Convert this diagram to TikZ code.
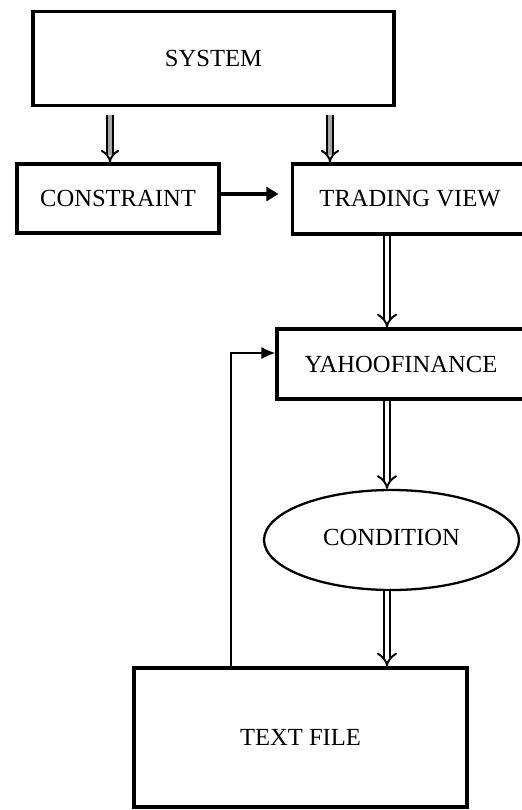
\documentclass[tikz,border=0pt]{standalone}
\usepackage{fontspec}
\setmainfont{Liberation Serif}
\usetikzlibrary{shapes.geometric}
\usetikzlibrary{arrows.meta}
\usetikzlibrary{calc}
\tikzset{every picture/.style={line width=1pt},block/.style={draw,line width=1.9pt,inner sep=0pt,font=\fontsize{14}{17}\selectfont},greyarrow/.style={line width=1.1pt,double=gray!70,double distance=2.4pt,-{Implies}},whitearrow/.style={line width=1.1pt,double=white,double distance=2.8pt,-{Implies}}}

\begin{document}
\begin{tikzpicture}[x=0.02cm,y=-0.02cm]
\useasboundingbox (0,0) rectangle (521,810);
\node[block,minimum width=7.22cm,minimum height=1.88cm] (system) at (213.5,58.5) {SYSTEM};
\node[block,minimum width=4.04cm,minimum height=1.38cm] (constraint) at (118,198.5) {CONSTRAINT};
\node[block,minimum width=4.7cm,minimum height=1.4cm] (trading) at (410,199) {TRADING VIEW};
\node[block,minimum width=4.96cm,minimum height=1.4cm] (yahoo) at (401,364) {YAHOOFINANCE};
\node[block,ellipse,line width=1.3pt,minimum width=5.1cm,minimum height=2cm] (condition) at (391.5,540) {};
\node[font=\fontsize{14}{17}\selectfont] at (391.5,537) {CONDITION};
\node[block,minimum width=6.66cm,minimum height=2.78cm] (textfile) at (300.5,737.5) {TEXT FILE};
\draw[greyarrow] (110,115 |- system.south) ++(0,8) -- (110,0 |- constraint.north);
\draw[greyarrow] (330,0 |- system.south) ++(0,8) -- (330,0 |- trading.north);
\draw[line width=2.8pt,-{Triangle[length=7pt,width=8pt]},shorten >=7pt] (constraint.east |- 0,194) -- (trading.west |- 0,194);
\draw[whitearrow] (387,0 |- trading.south) -- (387,0 |- yahoo.north);
\draw[whitearrow] (387,0 |- yahoo.south) -- (387,0 |- condition.north);
\draw[whitearrow] (387,0 |- condition.south) -- (387,0 |- textfile.north);
\draw[-{Latex[length=8pt,width=7pt]}] (231,0 |- textfile.north) |- (yahoo.west |- 0,353);
\end{tikzpicture}
\end{document}
